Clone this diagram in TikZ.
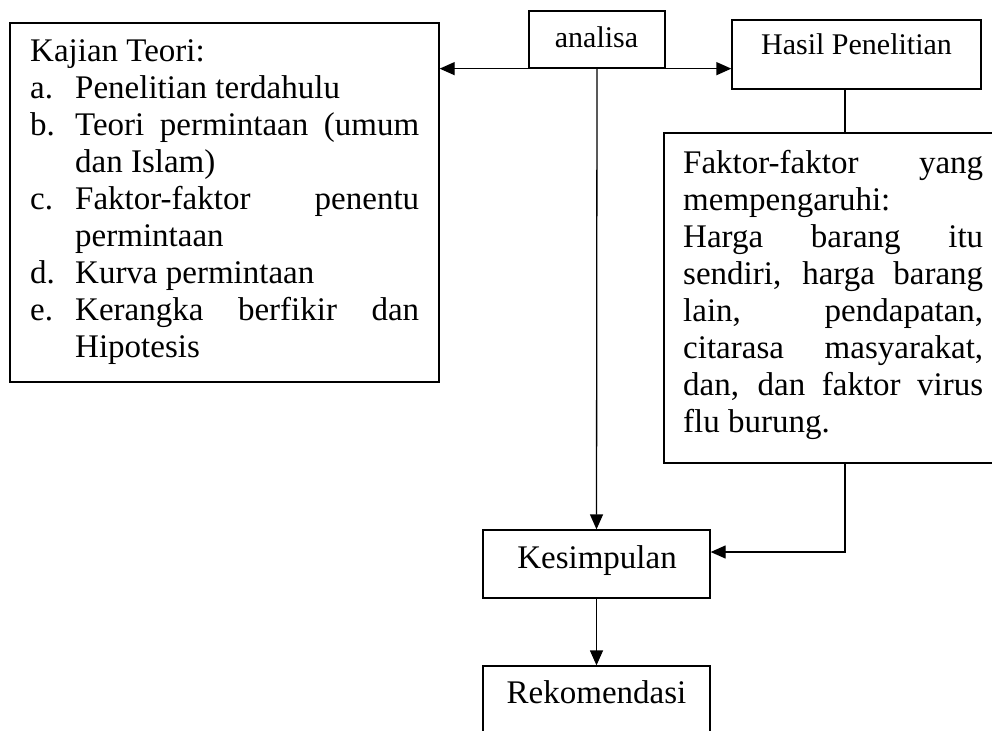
\documentclass[tikz,border=0pt]{standalone}
\usepackage{fontspec}
\setmainfont{Liberation Serif}
\usetikzlibrary{arrows.meta}
\newcommand{\kitem}[1]{\makebox[45pt][l]{#1}}
\begin{document}
\begin{tikzpicture}[x=1pt,y=-1pt,
  box/.style={draw, line width=1.3pt, inner sep=0pt, rectangle},
  link/.style={line width=1.3pt},
  conn/.style={line width=1.3pt, -{Triangle[length=15pt,width=13pt]}},
  lbl/.style={inner sep=0pt, font=\fontsize{30}{36}\selectfont},
  lblb/.style={inner sep=0pt, font=\fontsize{33}{37}\selectfont},
  txt/.style={inner sep=0pt, anchor=base west}]
\useasboundingbox (0,0) rectangle (992,730);
\fill[white] (0,0) rectangle (992,730);
% boxes
\node[box, minimum width=429pt, minimum height=359pt] (kajian) at (224.5,202.5) {};
\node[box, minimum width=136pt, minimum height=57pt] (analisa) at (597,39.5) {};
\node[box, minimum width=249pt, minimum height=69pt] (hasil) at (856.5,54.5) {};
\node[box, minimum width=336pt, minimum height=330pt] (faktor) at (832,298) {};
\node[box, minimum width=227pt, minimum height=68pt] (kesimpulan) at (596.5,564) {};
\node[box, minimum width=227pt, minimum height=68pt] (rekomendasi) at (596.5,700) {};
% labels
\node[lbl, anchor=base] (tanalisa) at (596.5,48) {analisa};
\node[lbl, anchor=base] (thasil) at (856.5,55) {Hasil Penelitian};
\node[lblb, anchor=base] (tkes) at (597,568) {Kesimpulan};
\node[lblb, anchor=base] (trek) at (596.5,703) {Rekomendasi};
\node[txt] (tkajian) at (30,62) {\parbox[t]{389pt}{\fontsize{33}{37}\selectfont\setlength{\parindent}{0pt}%
Kajian Teori:\\
\kitem{a.}Penelitian terdahulu\\
\kitem{b.}\makebox[344pt][s]{Teori permintaan (umum}\\
\hspace*{45pt}dan Islam)\\
\kitem{c.}\makebox[344pt][s]{Faktor-faktor penentu}\\
\hspace*{45pt}permintaan\\
\kitem{d.}Kurva permintaan\\
\kitem{e.}\makebox[344pt][s]{Kerangka berfikir dan}\\
\hspace*{45pt}Hipotesis}};
\node[txt] (tfaktor) at (683,173) {\parbox[t]{300pt}{\fontsize{33}{37}\selectfont\setlength{\parindent}{0pt}%
\makebox[300pt][s]{Faktor-faktor yang}\\
mempengaruhi:\\
\makebox[300pt][s]{Harga barang itu}\\
\makebox[300pt][s]{sendiri, harga barang}\\
\makebox[300pt][s]{lain, pendapatan,}\\
\makebox[300pt][s]{citarasa masyarakat,}\\
\makebox[300pt][s]{dan, dan faktor virus}\\
flu burung.}};
% connectors
\coordinate (hx) at (845,0);
\coordinate (kx) at (845,552);
\draw[conn] (analisa.south west) -- (analisa.south west -| kajian.east);
\draw[conn] (analisa.south east) -- (analisa.south east -| hasil.west);
\draw[conn] (analisa.south) -- (kesimpulan.north);
\draw[link] (hasil.south -| hx) -- (faktor.north -| hx);
\draw[conn] (faktor.south -| hx) -- (kx) -- (kx -| kesimpulan.east);
\draw[conn] (kesimpulan.south) -- (rekomendasi.north);
\end{tikzpicture}
\end{document}
